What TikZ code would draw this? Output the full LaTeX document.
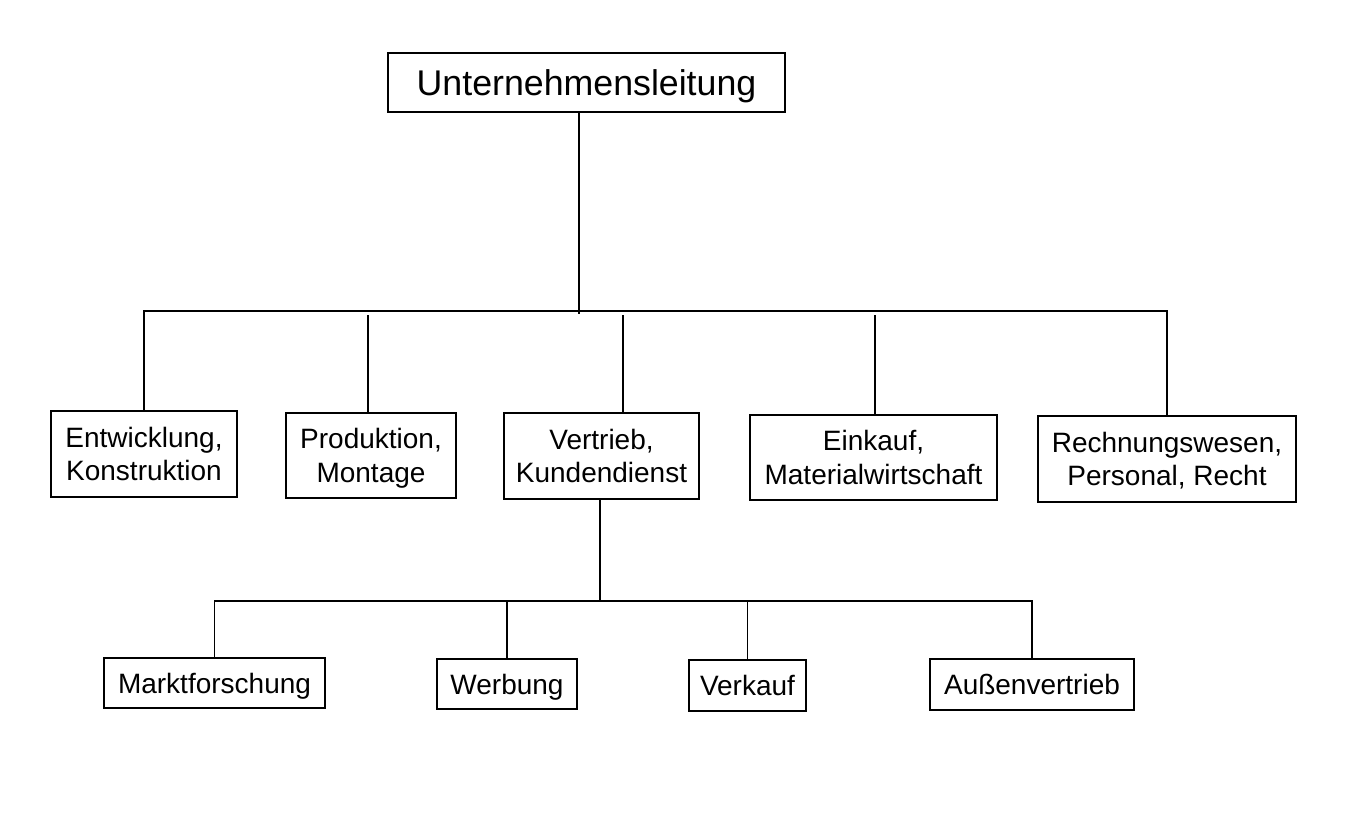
\documentclass[tikz,border=0pt]{standalone}
\usepackage{fontspec}
\setmainfont{Liberation Sans}
\usetikzlibrary{positioning}

\tikzset{
  unit/.style={draw, line width=1.9pt, align=center, inner sep=0pt,
    font=\fontsize{21}{25}\selectfont,
    execute at begin node={\rule{0pt}{0.966em}},
    execute at end node={\rule[-0.25em]{0pt}{0.25em}}},
  twoline/.style={unit, text height=45.3pt, text depth=5.25pt},
  conn/.style={line width=1.3pt},
}

\begin{document}
\begin{tikzpicture}[x=0.75pt,y=0.75pt,yscale=-1,xscale=1]
\useasboundingbox (0,0) rectangle (1354,815);

%Top box
\node [unit, font=\fontsize{26.8}{32}\selectfont, minimum width=297.75pt, minimum height=44.25pt] (leitung) at (586.5,82.5) {Unternehmensleitung};

%Second row
\node [twoline, minimum width=139.5pt, minimum height=64.5pt] (entw) at (144,454) {Entwicklung,\\Konstruktion};
\node [twoline, minimum width=127.5pt, minimum height=63.75pt] (prod) at (371,455.5) {Produktion,\\Montage};
\node [twoline, minimum width=146pt, minimum height=64.5pt] (vertr) at (601.5,456) {Vertrieb,\\Kundendienst};
\node [twoline, minimum width=185pt, minimum height=63.75pt] (eink) at (873.5,457.5) {Einkauf,\\Materialwirtschaft};
\node [twoline, minimum width=193.5pt, minimum height=64.5pt] (rechn) at (1167,459) {Rechnungswesen,\\Personal, Recht};

%Third row
\node [unit, minimum width=166pt, minimum height=37.5pt] (markt) at (214.5,683) {Marktforschung};
\node [unit, minimum width=105pt, minimum height=37.5pt] (werb) at (507,684) {Werbung};
\node [unit, minimum width=88pt, minimum height=38.25pt] (verk) at (747.5,685.5) {Verkauf};
\node [unit, minimum width=153pt, minimum height=38.25pt] (aussen) at (1032,684.5) {Außenvertrieb};

%Bus lines
\coordinate (bus) at (0,311);
\coordinate (subbus) at (0,601);
\coordinate (dtop) at (579,314);
\coordinate (sprod) at (368,315);
\coordinate (svertr) at (623,315);
\coordinate (seink) at (875,315);
\coordinate (dvertr) at (600,601);

%Straight Lines
\draw [conn] (dtop |- leitung.south) -- (dtop);
\draw [conn] (entw.north) -- (entw.north |- bus) -- (rechn.north |- bus) -- (rechn.north);
\draw [conn] (sprod) -- (sprod |- prod.north);
\draw [conn] (svertr) -- (svertr |- vertr.north);
\draw [conn] (seink) -- (seink |- eink.north);

\draw [conn] (dvertr |- vertr.south) -- (dvertr);
\draw [conn] (markt.north) -- (markt.north |- subbus) -- (aussen.north |- subbus) -- (aussen.north);
\draw [conn] (werb.north) -- (werb.north |- subbus);
\draw [conn] (verk.north) -- (verk.north |- subbus);

\end{tikzpicture}
\end{document}
